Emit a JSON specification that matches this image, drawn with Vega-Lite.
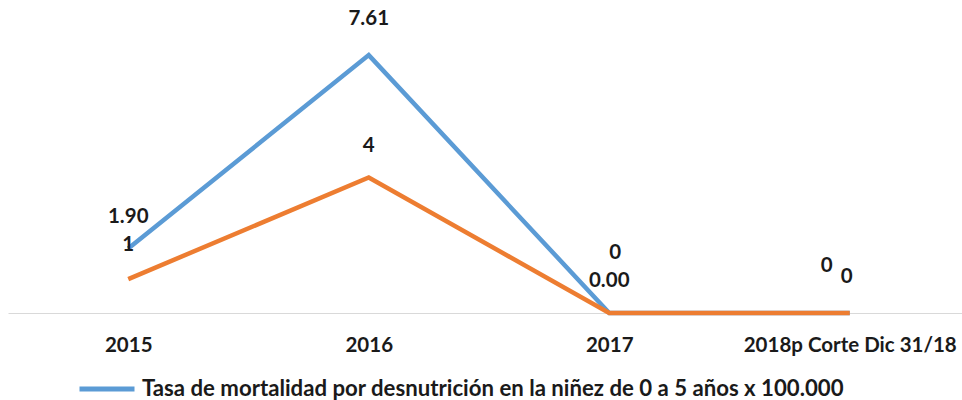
{
  "$schema": "https://vega.github.io/schema/vega-lite/v6.json",
  "width": 962,
  "height": 305,
  "autosize": {"type": "none"},
  "padding": {"left": 8, "top": 8, "right": 0, "bottom": 87},
  "background": "white",
  "config": {"view": {"stroke": null}, "font": "Lato"},
  "datasets": {
    "tasa": [
      {"anio": "2015", "serie": "Tasa de mortalidad por desnutrición en la niñez de 0 a 5 años x 100.000", "valor": 1.90, "etiqueta": "1.90"},
      {"anio": "2016", "serie": "Tasa de mortalidad por desnutrición en la niñez de 0 a 5 años x 100.000", "valor": 7.61, "etiqueta": "7.61"},
      {"anio": "2017", "serie": "Tasa de mortalidad por desnutrición en la niñez de 0 a 5 años x 100.000", "valor": 0.00, "etiqueta": "0.00"},
      {"anio": "2018p Corte Dic 31/18", "serie": "Tasa de mortalidad por desnutrición en la niñez de 0 a 5 años x 100.000", "valor": 0, "etiqueta": "0"}
    ],
    "casos": [
      {"anio": "2015", "valor": 1, "etiqueta": "1"},
      {"anio": "2016", "valor": 4, "etiqueta": "4"},
      {"anio": "2017", "valor": 0, "etiqueta": "0"},
      {"anio": "2018p Corte Dic 31/18", "valor": 0, "etiqueta": "0"}
    ]
  },
  "encoding": {
    "x": {
      "field": "anio", "type": "ordinal",
      "sort": ["2015", "2016", "2017", "2018p Corte Dic 31/18"],
      "scale": {"type": "point", "padding": 0.5},
      "axis": {
        "title": null, "labelAngle": 0, "ticks": false, "domainColor": "#d9d9d9", "domainWidth": 1,
        "labelFont": "Lato", "labelFontWeight": "bold", "labelFontSize": 20.5, "labelColor": "#1a1a1a",
        "labelPadding": 22, "grid": false, "labelLimit": 400, "labelOverlap": false, "labelBound": false
      }
    },
    "y": {
      "field": "valor", "type": "quantitative",
      "scale": {"domain": [0, 9]},
      "axis": null
    }
  },
  "layer": [
    {
      "data": {"name": "tasa"},
      "mark": {"type": "line", "strokeWidth": 4.5, "strokeCap": "butt"},
      "encoding": {
        "color": {
          "field": "serie", "type": "nominal",
          "scale": {"range": ["#5B9BD5"]},
          "legend": {
            "title": null, "orient": "none", "legendX": 69, "legendY": 351,
            "symbolType": "stroke", "symbolSize": 3025, "symbolStrokeWidth": 5,
            "labelFont": "Lato", "labelFontWeight": "bold", "labelFontSize": 22.2, "labelColor": "#1a1a1a",
            "labelLimit": 900, "labelOffset": 5
          }
        }
      }
    },
    {
      "data": {"name": "casos"},
      "mark": {"type": "line", "strokeWidth": 4.5, "color": "#ED7D31", "strokeCap": "butt"},
      "encoding": {}
    },
    {
      "data": {"name": "tasa"},
      "transform": [{"filter": "datum.anio == '2015' || datum.anio == '2017'"}],
      "mark": {"type": "text", "dy": -32, "fontSize": 20.5, "fontWeight": "bold", "color": "#1a1a1a", "font": "Lato"},
      "encoding": {"text": {"field": "etiqueta"}}
    },
    {
      "data": {"name": "tasa"},
      "transform": [{"filter": "datum.anio == '2016'"}],
      "mark": {"type": "text", "dy": -36, "fontSize": 20.5, "fontWeight": "bold", "color": "#1a1a1a", "font": "Lato"},
      "encoding": {"text": {"field": "etiqueta"}}
    },
    {
      "data": {"name": "tasa"},
      "transform": [{"filter": "datum.anio == '2018p Corte Dic 31/18'"}],
      "mark": {"type": "text", "dy": -47, "dx": -23, "fontSize": 20.5, "fontWeight": "bold", "color": "#1a1a1a", "font": "Lato"},
      "encoding": {"text": {"field": "etiqueta"}}
    },
    {
      "data": {"name": "casos"},
      "transform": [{"filter": "datum.anio == '2015'"}],
      "mark": {"type": "text", "dy": -34, "fontSize": 20.5, "fontWeight": "bold", "color": "#1a1a1a", "font": "Lato"},
      "encoding": {"text": {"field": "etiqueta"}}
    },
    {
      "data": {"name": "casos"},
      "transform": [{"filter": "datum.anio == '2016'"}],
      "mark": {"type": "text", "dy": -31, "fontSize": 20.5, "fontWeight": "bold", "color": "#1a1a1a", "font": "Lato"},
      "encoding": {"text": {"field": "etiqueta"}}
    },
    {
      "data": {"name": "casos"},
      "transform": [{"filter": "datum.anio == '2017'"}],
      "mark": {"type": "text", "dy": -60, "dx": 6, "fontSize": 20.5, "fontWeight": "bold", "color": "#1a1a1a", "font": "Lato"},
      "encoding": {"text": {"field": "etiqueta"}}
    },
    {
      "data": {"name": "casos"},
      "transform": [{"filter": "datum.anio == '2018p Corte Dic 31/18'"}],
      "mark": {"type": "text", "dy": -36, "dx": -3, "fontSize": 20.5, "fontWeight": "bold", "color": "#1a1a1a", "font": "Lato"},
      "encoding": {"text": {"field": "etiqueta"}}
    }
  ]
}
